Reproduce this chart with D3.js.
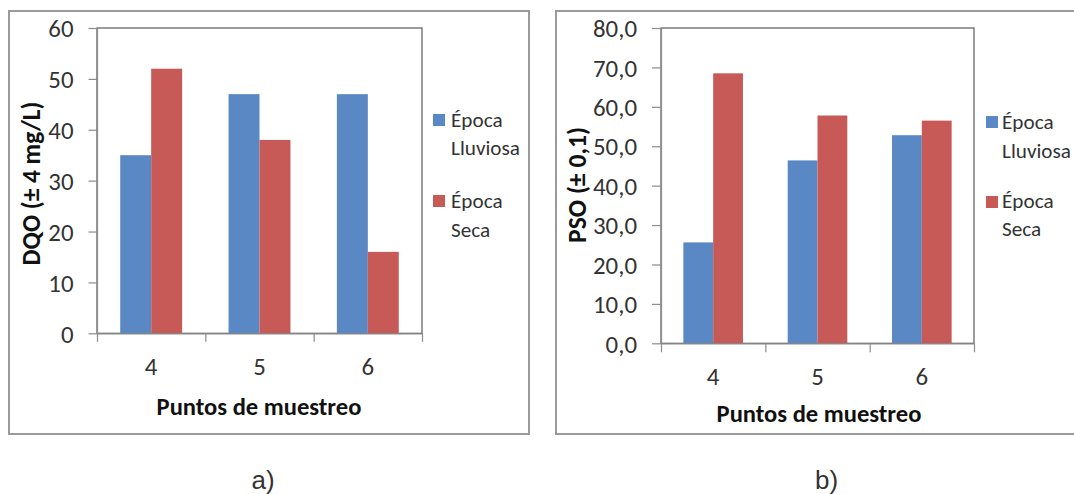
<!DOCTYPE html>
<html><head><meta charset="utf-8">
<script src="https://cdn.jsdelivr.net/npm/d3@7"></script>
<style>
body{margin:0;background:#fff;}
svg{display:block;}
</style></head><body>
<svg id="c" width="1074" height="494"></svg>
<script>
const categories = ["4", "5", "6"];
const seriesNames = [["Época", "Lluviosa"], ["Época", "Seca"]];
const dqoLluviosa = [35, 47, 47];
const dqoSeca = [52, 38, 16];
const psoLluviosa = [25.6, 46.4, 52.8];
const psoSeca = [68.5, 57.8, 56.5];
const dqoTicks = [0, 10, 20, 30, 40, 50, 60];
const psoTicks = [0, 10, 20, 30, 40, 50, 60, 70, 80];
const yTitles = ["DQO (± 4 mg/L)", "PSO (± 0,1)"];
const xTitle = "Puntos de muestreo";
const captions = ["a)", "b)"];

const FONT = "Carlito, Calibri, Lato, sans-serif";
const colors = ["#5A88C4", "#C75A57"];
const svg = d3.select("#c");

function fitSize(text, weight, target, base) {
  base = base || 20;
  const t = svg.append("text").attr("font-family", FONT).attr("font-weight", weight)
    .attr("font-size", base).text(text);
  const w = t.node().getComputedTextLength();
  t.remove();
  return base * target / w;
}
const tickFont = fitSize("80,0", "normal", 44);
const legendFont = fitSize("Lluviosa", "normal", 69);

const panels = [
  {
    frame: {x: 9, y: 11, w: 520, h: 423},
    plot: {l: 97, t: 28, r: 422, b: 333.3},
    vals: [dqoLluviosa, dqoSeca], ticks: dqoTicks, max: 60,
    fmt: d3.format("d"), tick: 8.5,
    ytitle: {cx: 31.5, cy: 183.5, len: 164, text: yTitles[0]},
    xtitle: {cx: 259, y: 415},
    legend: {sx: 433, tx: 451, sq: [114, 195], base: [[127, 155], [208, 237]]},
    caption: {x: 263, y: 489, text: captions[0]}
  },
  {
    frame: {x: 556, y: 11, w: 540, h: 423},
    plot: {l: 661, t: 28, r: 974, b: 343.3},
    vals: [psoLluviosa, psoSeca], ticks: psoTicks, max: 80,
    fmt: v => d3.format(".1f")(v).replace(".", ","), tick: 9,
    ytitle: {cx: 577, cy: 185, len: 116, text: yTitles[1]},
    xtitle: {cx: 819, y: 422},
    legend: {sx: 986, tx: 1002, sq: [116, 196], base: [[129, 158], [208, 236]]},
    caption: {x: 826.5, y: 489, text: captions[1]}
  }
];

panels.forEach(p => {
  const g = svg.append("g");
  // outer frame
  g.append("rect").attr("x", p.frame.x).attr("y", p.frame.y)
    .attr("width", p.frame.w).attr("height", p.frame.h)
    .attr("fill", "none").attr("stroke", "#9a9a9a").attr("stroke-width", 2);

  const x0 = d3.scaleBand().domain(categories).range([p.plot.l, p.plot.r]).padding(0);
  const x1 = d3.scaleBand().domain([0, 1]).range([0, x0.bandwidth()])
    .paddingInner(0).paddingOuter(0.75);
  const y = d3.scaleLinear().domain([0, p.max]).range([p.plot.b, p.plot.t]);

  // plot area border (top/right darker)
  g.append("rect").attr("x", p.plot.l).attr("y", p.plot.t)
    .attr("width", p.plot.r - p.plot.l).attr("height", p.plot.b - p.plot.t)
    .attr("fill", "none").attr("stroke", "#5a5a5a").attr("stroke-width", 1.2);

  // bars
  p.vals.forEach((arr, si) => {
    g.append("g").selectAll("rect").data(arr).join("rect")
      .attr("x", (d, i) => x0(categories[i]) + x1(si))
      .attr("width", x1.bandwidth())
      .attr("y", d => y(d))
      .attr("height", d => y(0) - y(d))
      .attr("fill", colors[si]);
  });

  // y axis
  const ya = g.append("g").attr("transform", `translate(${p.plot.l},0)`)
    .call(d3.axisLeft(y).tickValues(p.ticks).tickFormat(p.fmt)
      .tickSize(p.tick).tickPadding(15).tickSizeOuter(0));
  ya.select(".domain").attr("stroke", "#8c8c8c").attr("stroke-width", 1.2);
  ya.selectAll(".tick line").attr("stroke", "#8c8c8c").attr("stroke-width", 1.2);
  ya.selectAll(".tick text").attr("font-family", FONT).attr("font-size", tickFont)
    .attr("fill", "#333").attr("dy", "0.35em");

  // x axis boundary ticks
  const xb = d3.scaleLinear().domain([0, categories.length]).range([p.plot.l, p.plot.r]);
  const xa = g.append("g").attr("transform", `translate(0,${p.plot.b})`)
    .call(d3.axisBottom(xb).tickValues(d3.range(categories.length + 1))
      .tickFormat("").tickSize(p.tick).tickSizeOuter(0));
  xa.select(".domain").attr("stroke", "#8c8c8c").attr("stroke-width", 1.2);
  xa.selectAll(".tick line").attr("stroke", "#8c8c8c").attr("stroke-width", 1.2);

  // x category labels
  const xl = g.append("g").attr("transform", `translate(0,${p.plot.b})`)
    .call(d3.axisBottom(x0).tickSize(0).tickSizeOuter(0));
  xl.select(".domain").remove();
  xl.selectAll(".tick text").attr("font-family", FONT).attr("font-size", tickFont)
    .attr("fill", "#333").attr("y", 41.7).attr("dy", null);

  // x title
  const xtSize = fitSize(xTitle, "bold", 205);
  g.append("text").attr("x", p.xtitle.cx).attr("y", p.xtitle.y)
    .attr("text-anchor", "middle").attr("font-family", FONT).attr("font-weight", "bold")
    .attr("font-size", xtSize).attr("fill", "#111").text(xTitle);

  // y title
  const ytSize = fitSize(p.ytitle.text, "bold", p.ytitle.len);
  g.append("text").attr("transform", `translate(${p.ytitle.cx},${p.ytitle.cy}) rotate(-90)`)
    .attr("text-anchor", "middle").attr("dy", "0.35em").attr("font-family", FONT)
    .attr("font-weight", "bold").attr("font-size", ytSize).attr("fill", "#111")
    .text(p.ytitle.text);

  // legend
  seriesNames.forEach((nm, si) => {
    g.append("rect").attr("x", p.legend.sx).attr("y", p.legend.sq[si])
      .attr("width", 12).attr("height", 12).attr("fill", colors[si]);
    nm.forEach((line, li) => {
      g.append("text").attr("x", p.legend.tx).attr("y", p.legend.base[si][li])
        .attr("font-family", FONT).attr("font-size", legendFont).attr("fill", "#333")
        .text(line);
    });
  });

  // caption
  g.append("text").attr("x", p.caption.x).attr("y", p.caption.y)
    .attr("text-anchor", "middle").attr("font-family", "Liberation Sans, Arial, sans-serif")
    .attr("font-size", 26).attr("fill", "#333").text(p.caption.text);
});
</script>
</body></html>
